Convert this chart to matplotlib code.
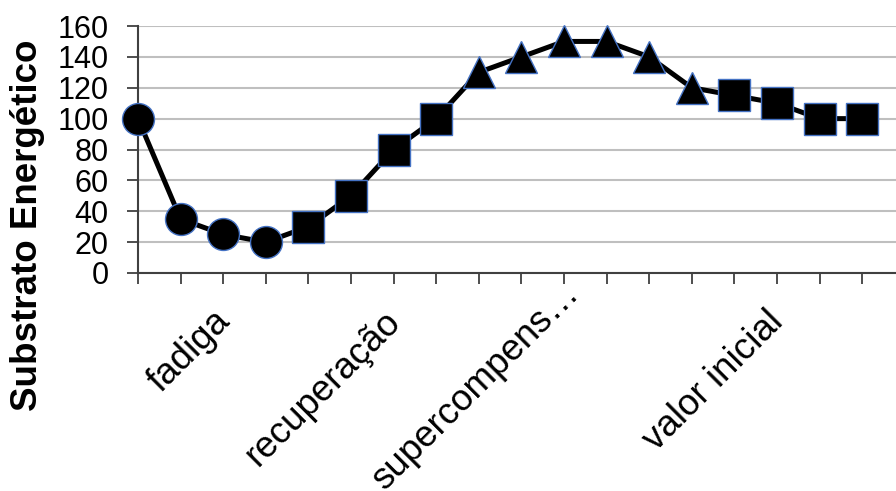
import matplotlib
matplotlib.use('Agg')
import matplotlib.pyplot as plt
import matplotlib.transforms as mtransforms

# values
values = [100, 35, 25, 20, 30, 50, 80, 100, 130, 140, 150, 150, 140, 120, 115, 110, 100, 100]
markers = ['o', 'o', 'o', 'o', 's', 's', 's', 's', '^', '^', '^', '^', '^', '^', 's', 's', 's', 's']
label_pos = [2, 6, 11, 15]
label_text = ['fadiga', 'recuperação', 'supercompens…', 'valor inicial']
yticks = [0, 20, 40, 60, 80, 100, 120, 140, 160]

plt.rcParams['font.family'] = ['Liberation Sans', 'DejaVu Sans']

fig = plt.figure(figsize=(8.96, 4.91), dpi=100)
ax = fig.add_axes([138 / 896, (491 - 273) / 491, (896 - 138) / 896, (273 - 26) / 491])

x = list(range(len(values)))
ax.plot(x, values, color='black', lw=3.6, zorder=3, clip_on=False)
for m in ['o', 's', '^']:
    xs = [i for i in x if markers[i] == m]
    ys = [values[i] for i in xs]
    ax.plot(xs, ys, ls='none', marker=m, ms=23, mfc='black', mec='#4472C4', mew=1.0,
            zorder=4, clip_on=False)

ax.set_xlim(0, 758 / 42.6)
ax.set_ylim(0, 160)
ax.set_yticks(yticks)
ax.set_yticklabels([str(v) for v in yticks], fontsize=22)
ax.yaxis.grid(True, color='#BFBFBF', lw=1.5)
ax.set_axisbelow(True)

ax.set_xticks(x)
labels = [''] * len(values)
for p, t in zip(label_pos, label_text):
    labels[p] = t
ax.set_xticklabels(labels, fontsize=26.5, rotation=45, ha='right', va='top', rotation_mode='anchor')

ax.tick_params(axis='both', direction='out', length=8, width=1.3, color='#404040')
ax.tick_params(axis='x', pad=12)
ax.tick_params(axis='y', pad=13)
for s in ['top', 'right']:
    ax.spines[s].set_visible(False)
for s in ['left', 'bottom']:
    ax.spines[s].set_color('#404040')
    ax.spines[s].set_linewidth(1.5)

# pixel nudges for the tick labels (the truncated one sits higher in the original)
shifts = {11: (-45, 25)}
for i, lbl in enumerate(ax.get_xticklabels()):
    dx, dy = shifts.get(i, (-11, -3))
    lbl.set_transform(lbl.get_transform() + mtransforms.ScaledTranslation(dx / 100, dy / 100, fig.dpi_scale_trans))

fig.text(28 / 896, 1 - 225 / 491, 'Substrato Energético', rotation=90, fontsize=26.5,
         fontweight='bold', ha='center', va='center')

fig.savefig('out.png', dpi=100)
